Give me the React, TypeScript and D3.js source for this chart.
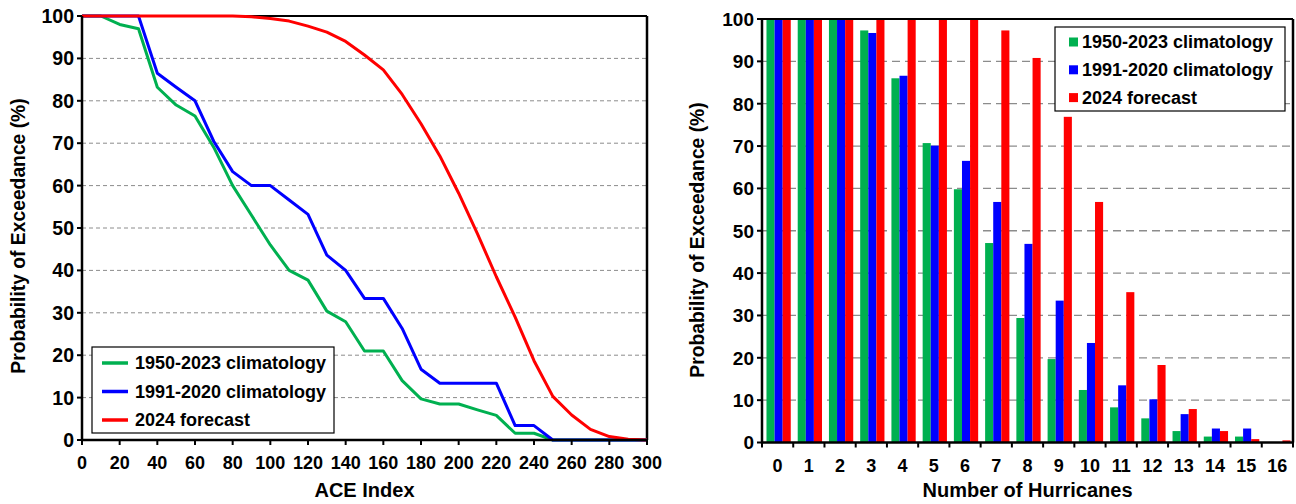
import React from "react";
import * as d3 from "d3";

// ACE index exceedance curves (x every 10)
const aceValues = d3.range(0, 301, 10);
const ace1950 = [100, 100, 98, 97, 83.2, 79, 76.4, 69, 60, 53, 46, 40, 37.7, 30.4, 27.9, 21, 21, 14, 9.7, 8.5, 8.5, 7.1, 5.8, 1.6, 1.6, 0, 0, 0, 0, 0, 0];
const ace1991 = [100, 100, 100, 100, 86.5, 83.2, 80, 70.4, 63.3, 60, 60, 56.6, 53.2, 43.6, 40, 33.4, 33.4, 26.3, 16.7, 13.4, 13.4, 13.4, 13.4, 3.4, 3.4, 0, 0, 0, 0, 0, 0];
const ace2024 = [100, 100, 100, 100, 100, 100, 100, 100, 100, 99.8, 99.4, 98.8, 97.6, 96.2, 94, 90.8, 87.3, 81.5, 74.6, 67, 58.2, 48.6, 38.5, 29, 18.7, 10.3, 5.9, 2.5, 0.8, 0.2, 0];

// Hurricane count exceedance bars
const hurricaneCounts = d3.range(0, 17).map(String);
const hur1950 = [100, 100, 100, 97.3, 86.0, 70.7, 59.8, 47.1, 29.4, 19.7, 12.4, 8.3, 5.7, 2.7, 1.4, 1.4, 0];
const hur1991 = [100, 100, 100, 96.7, 86.6, 70.1, 66.5, 56.8, 46.9, 33.5, 23.5, 13.5, 10.2, 6.7, 3.3, 3.3, 0];
const hur2024 = [100, 100, 100, 100, 100, 100, 100, 97.3, 90.8, 76.9, 56.8, 35.5, 18.3, 7.9, 2.7, 0.8, 0.5];

const seriesNames = ["1950-2023 climatology", "1991-2020 climatology", "2024 forecast"];
const colors = ["#00B050", "#0000FF", "#FF0000"];

const yTicks = d3.range(0, 101, 10);
const aceTicks = d3.range(0, 301, 20);

const font = "'Liberation Sans', Arial, sans-serif";

const LeftChart = () => {
  const x = d3.scaleLinear().domain([0, 300]).range([82, 647]);
  const y = d3.scaleLinear().domain([0, 100]).range([440, 16]);
  const line = d3
    .line<number>()
    .x((_, i) => x(aceValues[i]))
    .y((d) => y(d));
  const lines = [ace1950, ace1991, ace2024];

  return (
    <g fontFamily={font} fontWeight="bold">
      {yTicks.slice(1, -1).map((t) => (
        <line key={t} x1={x(0)} x2={x(300)} y1={y(t)} y2={y(t)} stroke="#8c8c8c" strokeWidth={1} strokeDasharray="4,3" />
      ))}
      <line x1={x(0)} x2={x(300)} y1={y(100)} y2={y(100)} stroke="#000" strokeWidth={2} />
      <line x1={x(300)} x2={x(300)} y1={y(100)} y2={y(0)} stroke="#000" strokeWidth={2.5} />
      {lines.map((d, i) => (
        <path key={i} d={line(d) || ""} fill="none" stroke={colors[i]} strokeWidth={3} strokeLinejoin="round" />
      ))}
      <line x1={x(0)} x2={x(0)} y1={y(100)} y2={y(0) + 1} stroke="#000" strokeWidth={2.5} />
      <line x1={x(0) - 1} x2={x(300) + 1} y1={y(0)} y2={y(0)} stroke="#000" strokeWidth={2.5} />
      {yTicks.map((t) => (
        <g key={t}>
          <line x1={x(0) - 5} x2={x(0)} y1={y(t)} y2={y(t)} stroke="#000" strokeWidth={2} />
          <text x={x(0) - 8} y={y(t)} dy="0.36em" textAnchor="end" fontSize={19.5}>
            {t}
          </text>
        </g>
      ))}
      {aceTicks.map((t) => (
        <g key={t}>
          <line x1={x(t)} x2={x(t)} y1={y(0)} y2={y(0) + 5} stroke="#000" strokeWidth={2} />
          <text x={x(t)} y={469} textAnchor="middle" fontSize={18}>
            {t}
          </text>
        </g>
      ))}
      <text x={(x(0) + x(300)) / 2} y={497} textAnchor="middle" fontSize={20}>
        ACE Index
      </text>
      <text transform={`translate(25,236) rotate(-90)`} textAnchor="middle" fontSize={19.3}>
        Probability of Exceedance (%)
      </text>
      <rect x={92} y={347} width={242} height={86} fill="#fff" stroke="#000" strokeWidth={1.2} />
      {seriesNames.map((s, i) => (
        <g key={s} transform={`translate(0,${363 + i * 28.5})`}>
          <line x1={102} x2={128} y1={0} y2={0} stroke={colors[i]} strokeWidth={3.5} />
          <text x={135} y={0} dy="0.35em" fontSize={18}>
            {s}
          </text>
        </g>
      ))}
    </g>
  );
};

const RightChart = () => {
  const x0 = d3.scaleBand().domain(hurricaneCounts).range([762, 1293]);
  const x1 = d3.scaleBand().domain(seriesNames).range([1, x0.bandwidth() + 1]).paddingOuter(0.43);
  const y = d3.scaleLinear().domain([0, 100]).range([442.5, 19]);
  const data = [hur1950, hur1991, hur2024];
  const edges = d3.range(0, 18).map((i) => 762 + i * x0.step());

  return (
    <g fontFamily={font} fontWeight="bold">
      {yTicks.slice(1, -1).map((t) => (
        <line key={t} x1={762} x2={1293} y1={y(t)} y2={y(t)} stroke="#8c8c8c" strokeWidth={1.3} strokeDasharray="8,5" />
      ))}
      {hurricaneCounts.map((c, ci) => (
        <g key={c} transform={`translate(${x0(c)},0)`}>
          {seriesNames.map((s, si) => (
            <rect
              key={s}
              x={x1(s)}
              y={y(data[si][ci])}
              width={x1.bandwidth()}
              height={y(0) - y(data[si][ci])}
              fill={colors[si]}
            />
          ))}
        </g>
      ))}
      <line x1={762} x2={1293} y1={y(100)} y2={y(100)} stroke="#000" strokeWidth={2} />
      <line x1={1293} x2={1293} y1={y(100)} y2={y(0)} stroke="#000" strokeWidth={2.5} />
      <line x1={762} x2={762} y1={y(100)} y2={y(0) + 1} stroke="#000" strokeWidth={2.5} />
      <line x1={761} x2={1294} y1={y(0)} y2={y(0)} stroke="#000" strokeWidth={2.5} />
      {yTicks.map((t) => (
        <g key={t}>
          <line x1={757} x2={762} y1={y(t)} y2={y(t)} stroke="#000" strokeWidth={2} />
          <text x={754} y={y(t)} dy="0.36em" textAnchor="end" fontSize={19}>
            {t}
          </text>
        </g>
      ))}
      {edges.map((e, i) => (
        <line key={i} x1={e} x2={e} y1={y(0)} y2={y(0) + 5} stroke="#000" strokeWidth={2} />
      ))}
      {hurricaneCounts.map((c) => (
        <text key={c} x={(x0(c) || 0) + x0.bandwidth() / 2} y={472} textAnchor="middle" fontSize={18}>
          {c}
        </text>
      ))}
      <text x={(762 + 1293) / 2} y={497} textAnchor="middle" fontSize={20}>
        Number of Hurricanes
      </text>
      <text transform={`translate(704,240) rotate(-90)`} textAnchor="middle" fontSize={19.3}>
        Probability of Exceedance (%)
      </text>
      <rect x={1055} y={27} width={230} height={84} fill="#fff" stroke="#000" strokeWidth={1.2} />
      {seriesNames.map((s, i) => (
        <g key={s} transform={`translate(0,${42 + i * 27.8})`}>
          <rect x={1069} y={-4.5} width={9} height={9} fill={colors[i]} />
          <text x={1082} y={0} dy="0.35em" fontSize={18}>
            {s}
          </text>
        </g>
      ))}
    </g>
  );
};

export default function App() {
  return (
    <svg width={1296} height={504} style={{ position: "absolute", left: 0, top: 0, background: "#fff" }}>
      <rect width={1296} height={504} fill="#fff" />
      <LeftChart />
      <RightChart />
    </svg>
  );
}
